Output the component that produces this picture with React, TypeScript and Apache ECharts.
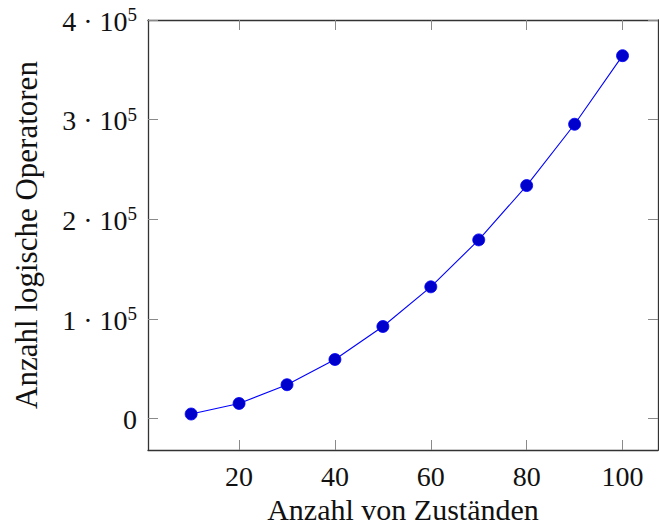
import React, { useEffect, useRef } from "react";
import * as echarts from "echarts";

const states = [10, 20, 30, 40, 50, 60, 70, 80, 90, 100];
const operators = [4700, 15300, 34100, 59400, 92500, 132300, 179400, 233900, 295400, 364200];
const xTicks = [20, 40, 60, 80, 100];
const yTicks = [0, 100000, 200000, 300000, 400000];
const xTitle = "Anzahl von Zuständen";
const yTitle = "Anzahl logische Operatoren";

const FONT = "'Liberation Serif', 'Times New Roman', serif";
const X_MIN = 1;
const X_MAX = 107.4;
const Y_MIN = -31400;
const Y_MAX = 400000;

export default function App() {
  const ref = useRef<HTMLDivElement>(null);
  useEffect(() => {
    if (!ref.current) return;
    const chart = echarts.init(ref.current, null, { renderer: "svg" });
    const lineStyle = { color: "#333", width: 1.3 };
    const tickStyle = { color: "#8a8a8a", width: 1 };
    chart.setOption({
      animation: false,
      grid: { left: 148, right: 1, top: 20, bottom: 75, containLabel: false, outerBoundsMode: "none" },
      xAxis: [
        {
          type: "value",
          min: X_MIN,
          max: X_MAX,
          position: "bottom",
          splitLine: { show: false },
          axisLine: { show: true, onZero: false, lineStyle },
          axisTick: { show: true, inside: true, length: 10, lineStyle: tickStyle, customValues: xTicks },
          axisLabel: {
            customValues: xTicks,
            fontFamily: FONT,
            fontSize: 28,
            color: "#111",
            margin: 12,
          },
          name: xTitle,
          nameLocation: "middle",
          nameGap: 41,
          nameTextStyle: { fontFamily: FONT, fontSize: 30, lineHeight: 30, color: "#111" },
        },
        {
          type: "value",
          min: X_MIN,
          max: X_MAX,
          position: "top",
          splitLine: { show: false },
          axisLine: { show: true, onZero: false, lineStyle },
          axisTick: { show: true, inside: true, length: 10, lineStyle: tickStyle, customValues: xTicks },
          axisLabel: { show: false },
        },
      ],
      yAxis: [
        {
          type: "value",
          min: Y_MIN,
          max: Y_MAX,
          position: "left",
          splitLine: { show: false },
          axisLine: { show: true, onZero: false, lineStyle },
          axisTick: { show: true, inside: true, length: 10, lineStyle: tickStyle, customValues: yTicks },
          axisLabel: {
            customValues: yTicks,
            margin: 11,
            fontFamily: FONT,
            fontSize: 28,
            color: "#111",
            formatter: (v: number) => (v === 0 ? "{n|0}" : `{n|${Math.round(v / 100000)} · 10}{s|5}`),
            rich: {
              n: { fontFamily: FONT, fontSize: 28, color: "#111", lineHeight: 30, verticalAlign: "bottom" },
              s: { fontFamily: FONT, fontSize: 19, color: "#111", lineHeight: 19, verticalAlign: "top" },
            },
          },
          name: yTitle,
          nameLocation: "middle",
          nameRotate: 90,
          nameGap: 106,
          nameTextStyle: { fontFamily: FONT, fontSize: 31, color: "#111" },
        },
        {
          type: "value",
          min: Y_MIN,
          max: Y_MAX,
          position: "right",
          splitLine: { show: false },
          axisLine: { show: true, onZero: false, lineStyle },
          axisTick: { show: true, inside: true, length: 10, lineStyle: tickStyle, customValues: yTicks },
          axisLabel: { show: false },
        },
      ],
      series: [
        {
          type: "line",
          data: states.map((s, i) => [s, operators[i]]),
          symbol: "circle",
          symbolSize: 12,
          lineStyle: { color: "#0000ff", width: 1.1 },
          itemStyle: { color: "#0000cc", borderColor: "#0000ff", borderWidth: 0.8 },
        },
      ],
    });
    return () => chart.dispose();
  }, []);
  return (
    <div
      ref={ref}
      style={{ position: "fixed", left: 0, top: 0, width: 659, height: 525, background: "#fff" }}
    />
  );
}
